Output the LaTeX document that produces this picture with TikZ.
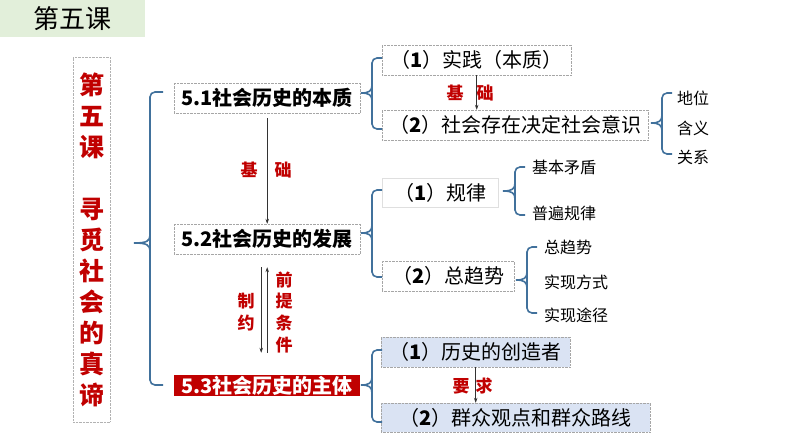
\documentclass[tikz,border=0pt]{standalone}
\usepackage{fontspec}
\setmainfont{Noto Sans CJK SC}
\usetikzlibrary{arrows.meta,calc}
\definecolor{dred}{RGB}{192,0,0}
\definecolor{braceblue}{RGB}{65,113,156}
\definecolor{lgreen}{RGB}{226,239,218}
\definecolor{lblue}{RGB}{218,227,243}
% #1 tip x, #2 vertical x, #3 end x, #4 top y, #5 middle y, #6 bottom y
\newcommand\mybrace[6]{%
  \draw[brace] (#3,#4) -- (#2,#4) -- (#2,#6) -- (#3,#6);
  \draw[brace,rounded corners=0pt] (#2,#5-8) .. controls (#2,#5-2) and (#2-3,#5) .. (#1,#5)
     .. controls (#2-3,#5) and (#2,#5+2) .. (#2,#5+8);
}
\begin{document}
\begin{tikzpicture}[x=1pt,y=-1pt,
  mainbox/.style={draw=gray!70, densely dotted, minimum width=186pt, minimum height=30pt,
     inner sep=0pt, anchor=west, font=\fontsize{20}{20}\selectfont\bfseries},
  subbox/.style={draw=gray!70, densely dotted, minimum height=30pt, inner sep=0pt,
     anchor=west, font=\fontsize{20}{20}\selectfont},
  leaf/.style={anchor=west, inner sep=0pt, font=\fontsize{16}{16}\selectfont},
  lab/.style={text=dred, inner sep=0pt, font=\fontsize{17}{17}\selectfont\bfseries},
  brace/.style={draw=braceblue, line width=1.6pt, rounded corners=5pt},
  arr/.style={draw=black!80, line width=0.7pt, -{Stealth[length=5pt,width=3.5pt]}},
]
\useasboundingbox (0,0) rectangle (794,447);

% title
\node[fill=lgreen, minimum width=145pt, minimum height=37pt, anchor=north west, inner sep=0pt,
      font=\fontsize{26}{26}\selectfont] (title) at (0,0) {第五课};

% vertical title
\node[draw=gray!60, densely dotted, minimum width=37pt, minimum height=365pt, inner sep=0pt,
      text=dred, align=center, font=\fontsize{25}{31}\selectfont\bfseries] (vt) at (91.5,239.5)
      {第\\五\\课\\[31pt]寻\\觅\\社\\会\\的\\真\\谛};

% main boxes
\node[mainbox] (n51) at (174,98) {5.1社会历史的本质};
\node[mainbox] (n52) at (174,239) {5.2社会历史的发展};
\node[mainbox, draw=none, fill=dred, text=white, minimum height=21pt] (n53) at (174,385.5) {5.3社会历史的主体};

% second level
\node[subbox, minimum width=189pt] (p1) at (382,60) {（\textbf{1}）实践（本质）};
\node[subbox, minimum width=266pt] (p2) at (382,125) {（\textbf{2}）社会存在决定社会意识};
\node[subbox, draw=gray!25, solid, minimum width=116pt, minimum height=29pt] (r1) at (382,192.5) {（\textbf{1}）规律};
\node[subbox, minimum width=132pt] (r2) at (382,276) {（\textbf{2}）总趋势};
\node[subbox, fill=lblue, minimum width=189pt] (q1) at (381,352) {（\textbf{1}）历史的创造者};
\node[subbox, fill=lblue, minimum width=269pt, minimum height=29pt] (q2) at (381,417.5) {（\textbf{2}）群众观点和群众路线};

% leaves
\node[leaf] (l1) at (677,98) {地位};
\node[leaf] (l2) at (677,128) {含义};
\node[leaf] (l3) at (677,157) {关系};
\node[leaf] (m1) at (532,167) {基本矛盾};
\node[leaf] (m2) at (532,213) {普遍规律};
\node[leaf] (k1) at (544,247) {总趋势};
\node[leaf] (k2) at (544,282) {实现方式};
\node[leaf] (k3) at (544,315) {实现途径};

% braces
\mybrace{134}{150}{163}{92}{243}{385}
\mybrace{361}{372}{382}{58}{93}{129}
\mybrace{651}{662}{672}{93}{123}{154}
\mybrace{361}{372}{382}{190}{233}{277}
\mybrace{503}{515}{525}{167}{191}{215}
\mybrace{516}{527}{537}{247}{280}{313}
\mybrace{361}{372}{382}{350}{385}{422}

% arrows
\draw[arr] ([yshift=-5pt]n51.south) -- (n52.north);
\draw[arr] ([xshift=-6pt,yshift=-13pt]n52.south) -- ([xshift=-6pt,yshift=22pt]n53.north);
\draw[arr] ([yshift=22pt]n53.north) -- ([yshift=-13pt]n52.south);
\draw[arr] (p1.south) -- (p1.south |- p2.north);
\draw[arr] (q1.south) -- (q1.south |- q2.north);

% arrow labels
\node[lab] (a1) at (249,170) {基};
\node[lab] (a2) at (283,170) {础};
\node[lab] (b1) at (455,93) {基};
\node[lab] (b2) at (485,93) {础};
\node[lab] (c1) at (246,301) {制};
\node[lab] (c2) at (246,323) {约};
\node[lab] (d1) at (284,280) {前};
\node[lab] (d2) at (284,301) {提};
\node[lab] (d3) at (284,323) {条};
\node[lab] (d4) at (284,345) {件};
\node[lab] (e1) at (461,386) {要};
\node[lab] (e2) at (484,386) {求};
\end{tikzpicture}
\end{document}
